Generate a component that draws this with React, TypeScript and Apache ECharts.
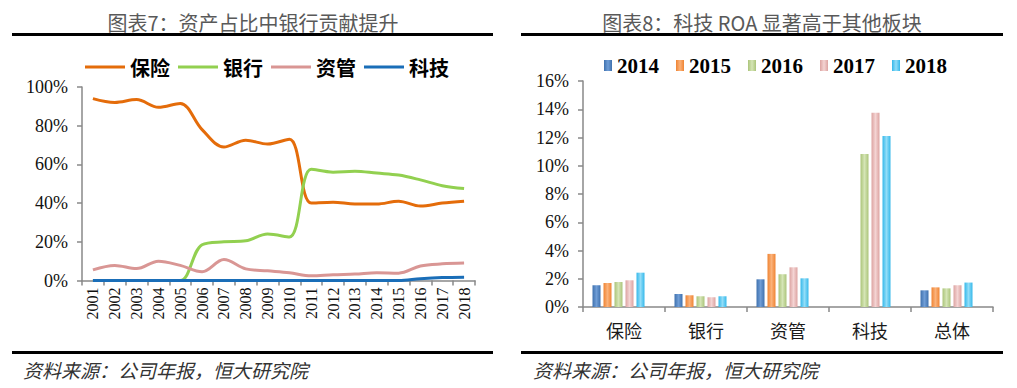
import React, { useEffect, useRef } from 'react';
import * as echarts from 'echarts';

// ---- Left chart data (资产占比, %) ----
const years = ['2001', '2002', '2003', '2004', '2005', '2006', '2007', '2008', '2009', '2010', '2011', '2012', '2013', '2014', '2015', '2016', '2017', '2018'];
const insurance = [94, 92, 93.5, 89.5, 91.5, 78, 69, 72.5, 70.5, 73, 40, 40.5, 39.5, 39.5, 41, 38.5, 40, 41];
const bank = [0, 0, 0, 0, 0, 18.5, 20, 20.5, 24, 22.5, 57.5, 56, 56.5, 55.5, 54.5, 52, 49, 47.5];
const assetMgmt = [5.5, 7.8, 6.2, 10, 7.8, 4.5, 10.8, 6, 5, 4, 2.4, 3, 3.3, 4, 3.8, 7.5, 8.6, 9];
const tech = [0, 0, 0, 0, 0, 0, 0, 0, 0, 0, 0, 0, 0, 0, 0, 0.9, 1.5, 1.7];
const lineNames = ['保险', '银行', '资管', '科技'];
const leftTicks = { min: 0, max: 100, interval: 20 };

// ---- Right chart data (ROA, %) ----
const barCats = ['保险', '银行', '资管', '科技', '总体'];
const barYears = ['2014', '2015', '2016', '2017', '2018'];
const roa2014 = [1.54, 0.92, 1.96, null, 1.18];
const roa2015 = [1.7, 0.83, 3.76, null, 1.39];
const roa2016 = [1.77, 0.76, 2.32, 10.83, 1.32];
const roa2017 = [1.89, 0.69, 2.81, 13.76, 1.54];
const roa2018 = [2.43, 0.76, 2.03, 12.1, 1.73];
const rightTicks = { min: 0, max: 16, interval: 2 };

const lineColors = ['#E46C0A', '#92D050', '#D99694', '#1A6EB8'];
const barColors: [string, string][] = [
  ['#3F71AE', '#6F9DD6'],
  ['#EF8433', '#FBB27A'],
  ['#ABC47A', '#D5E5B6'],
  ['#DCA3A1', '#F4D4D3'],
  ['#35B8EA', '#92DDF8'],
];

const axisGray = '#898989';
const serif = 'Liberation Serif';
const cjk = 'Noto Sans CJK SC';

export default function App() {
  const ref = useRef<HTMLDivElement>(null);
  useEffect(() => {
    const chart = echarts.init(ref.current!, null, { renderer: 'svg' });
    const lineData = [insurance, bank, assetMgmt, tech];
    const barData = [roa2014, roa2015, roa2016, roa2017, roa2018];

    const grad = (c: [string, string]) =>
      new echarts.graphic.LinearGradient(0, 0, 1, 0, [
        { offset: 0, color: c[0] },
        { offset: 0.5, color: c[1] },
        { offset: 1, color: c[0] },
      ]);

    const axisLine = { show: true, lineStyle: { color: axisGray, width: 1.5 } };
    const axisTick = { show: true, length: 5, lineStyle: { color: axisGray, width: 1.5 } };
    const yLabel = { show: true, margin: 14, fontFamily: serif, fontSize: 18, color: '#111', formatter: '{value}%' };

    const option: any = {
      animation: false,
      backgroundColor: '#fff',
      grid: [
        { left: 82, top: 87, width: 393, height: 193.5 },
        { left: 583, top: 81, width: 410, height: 226 },
      ],
      legend: [
        {
          data: lineNames,
          left: 80,
          top: 52,
          itemWidth: 40,
          itemHeight: 3,
          itemGap: 8,
          icon: 'rect',
          textStyle: { fontFamily: cjk, fontWeight: 'bold', fontSize: 20, color: '#000' },
        },
        {
          data: barYears,
          left: 599,
          top: 50,
          itemWidth: 8,
          itemHeight: 11,
          itemGap: 17,
          icon: 'rect',
          textStyle: { fontFamily: serif, fontWeight: 'bold', fontSize: 21, color: '#000' },
        },
      ],
      xAxis: [
        {
          gridIndex: 0,
          type: 'category',
          data: years,
          boundaryGap: true,
          axisLine,
          axisTick: { ...axisTick, interval: 0 },
          axisLabel: { rotate: 90, interval: 0, margin: 7, fontFamily: serif, fontSize: 16, color: '#111' },
        },
        {
          gridIndex: 1,
          type: 'category',
          data: barCats,
          boundaryGap: true,
          axisLine,
          axisTick: { ...axisTick, interval: 0 },
          axisLabel: { interval: 0, fontFamily: cjk, fontSize: 18, color: '#1a1a1a', margin: 14 },
        },
      ],
      yAxis: [
        {
          gridIndex: 0,
          type: 'value',
          min: leftTicks.min,
          max: leftTicks.max,
          interval: leftTicks.interval,
          splitLine: { show: false },
          axisLine,
          axisTick,
          axisLabel: yLabel,
        },
        {
          gridIndex: 1,
          type: 'value',
          min: rightTicks.min,
          max: rightTicks.max,
          interval: rightTicks.interval,
          splitLine: { show: false },
          axisLine,
          axisTick,
          axisLabel: yLabel,
        },
      ],
      series: [
        ...lineNames.map((n, i) => ({
          name: n,
          type: 'line',
          xAxisIndex: 0,
          yAxisIndex: 0,
          data: lineData[i],
          smooth: 0.35,
          symbol: 'none',
          lineStyle: { color: lineColors[i], width: 3 },
          itemStyle: { color: lineColors[i] },
          clip: true,
        })),
        ...barYears.map((n, i) => ({
          name: n,
          type: 'bar',
          xAxisIndex: 1,
          yAxisIndex: 1,
          data: barData[i],
          barWidth: 8,
          barGap: '37.5%',
          itemStyle: { color: grad(barColors[i]) },
        })),
        {
          name: '_pad',
          type: 'bar',
          xAxisIndex: 1,
          yAxisIndex: 1,
          data: [],
          barWidth: 8,
          barGap: '37.5%',
        },
      ],
      graphic: [
        { type: 'text', x: 253, y: 22, style: { text: '图表7：资产占比中银行贡献提升', fontFamily: cjk, fontSize: 20, fill: '#595959', align: 'center', verticalAlign: 'middle' } },
        { type: 'text', x: 762, y: 22, style: { text: '图表8：科技 ROA 显著高于其他板块', fontFamily: cjk, fontSize: 20, fill: '#595959', align: 'center', verticalAlign: 'middle' } },
        { type: 'rect', shape: { x: 12, y: 33, width: 481, height: 3 }, style: { fill: '#000' } },
        { type: 'rect', shape: { x: 521, y: 33, width: 482, height: 3 }, style: { fill: '#000' } },
        { type: 'rect', shape: { x: 12, y: 351, width: 481, height: 3 }, style: { fill: '#000' } },
        { type: 'rect', shape: { x: 521, y: 351, width: 482, height: 3 }, style: { fill: '#000' } },
        { type: 'text', x: 23, y: 369, style: { text: '资料来源：公司年报，恒大研究院', fontFamily: cjk, fontStyle: 'italic', fontSize: 19, fill: '#333', align: 'left', verticalAlign: 'middle' } },
        { type: 'text', x: 533, y: 369, style: { text: '资料来源：公司年报，恒大研究院', fontFamily: cjk, fontStyle: 'italic', fontSize: 19, fill: '#333', align: 'left', verticalAlign: 'middle' } },
      ],
    };
    chart.setOption(option);
    return () => chart.dispose();
  }, []);
  return (
    <div
      ref={ref}
      style={{ position: 'fixed', left: 0, top: 0, width: 1017, height: 388, background: '#fff' }}
    />
  );
}
